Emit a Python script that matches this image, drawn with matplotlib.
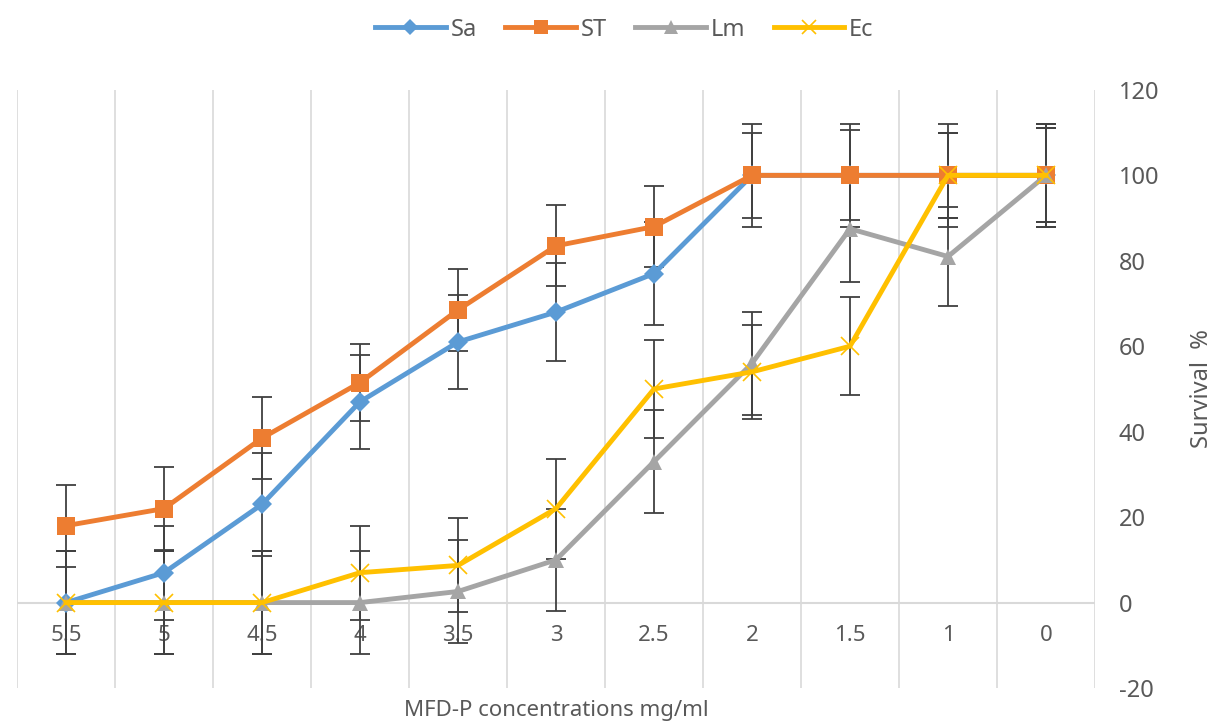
import matplotlib
matplotlib.use("Agg")
import matplotlib.pyplot as plt
import numpy as np

plt.rcParams['font.family'] = ['Noto Sans', 'DejaVu Sans']
plt.rcParams['axes.unicode_minus'] = False

concentrations = ['5.5', '5', '4.5', '4', '3.5', '3', '2.5', '2', '1.5', '1', '0']

sa = [0, 7, 23, 47, 61, 68, 77, 100, 100, 100, 100]
st = [18, 22, 38.5, 51.5, 68.5, 83.5, 88, 100, 100, 100, 100]
lm = [0, 0, 0, 0, 2.6, 10, 33, 56, 87.5, 81, 100]
ec = [0, 0, 0, 7, 8.7, 22, 50, 54, 60, 100, 100]

sa_err = [12, 11, 12, 11, 11, 11.5, 12, 12, 12, 12, 12]
st_err = [9.6, 9.8, 9.6, 9, 9.6, 9.5, 9.5, 10, 10.5, 10, 11]
lm_err = [12, 12, 12, 12, 12, 12, 12, 12, 12.4, 11.5, 11]
ec_err = [12, 12, 12, 11, 11, 11.7, 11.5, 11, 11.5, 10, 12]

series = [
    ('Sa', sa, sa_err, '#5B9BD5', 'D', 10),
    ('ST', st, st_err, '#ED7D31', 's', 13),
    ('Lm', lm, lm_err, '#A5A5A5', '^', 12),
    ('Ec', ec, ec_err, '#FFC000', 'x', 13),
]

fig = plt.figure(figsize=(12.24, 7.25), dpi=100)
ax = fig.add_axes([0.0139, 0.051, 0.8807, 0.825])

x = np.arange(len(concentrations))
grid_col = '#D9D9D9'
text_col = '#595959'

# vertical gridlines between categories
for b in np.arange(-0.5, len(concentrations), 1.0):
    ax.axvline(b, color=grid_col, lw=1.2, zorder=0)
ax.axhline(0, color=grid_col, lw=1.5, zorder=0)

for name, vals, err, col, mk, ms in series:
    ax.errorbar(x, vals, yerr=err, fmt='none', ecolor='#404040',
                elinewidth=1.3, capsize=7, capthick=1.3, zorder=2)
for name, vals, err, col, mk, ms in series:
    mew = 1.2 if mk == 'x' else 0
    ax.plot(x, vals, color=col, lw=3.5, marker=mk, markersize=ms,
            markeredgewidth=mew, markeredgecolor=col, label=name, zorder=3)

ax.set_xlim(-0.5, len(concentrations) - 0.5)
ax.set_ylim(-20, 120)
ax.set_yticks(np.arange(-20, 121, 20))
ax.yaxis.tick_right()
ax.tick_params(axis='y', length=0, pad=17, labelsize=17, labelcolor=text_col)

ax.set_xticks(x)
ax.set_xticklabels(concentrations)
ax.spines['bottom'].set_position(('data', 0))
ax.tick_params(axis='x', length=0, pad=16, labelsize=16, labelcolor=text_col)
for s in ['top', 'left', 'right', 'bottom']:
    ax.spines[s].set_visible(False)

ax.yaxis.set_label_position('right')
ax.set_ylabel('Survival  %', fontsize=17, color=text_col, labelpad=22)
ax.text(0.5, -0.038, 'MFD-P concentrations mg/ml', transform=ax.transAxes,
        ha='center', va='center', fontsize=16, color=text_col)

fig.legend(loc='upper center', bbox_to_anchor=(0.51, 1.005), ncol=4, frameon=False,
           fontsize=17, handlelength=3, columnspacing=1.2, handletextpad=0.2,
           labelcolor=text_col, markerscale=0.8)

fig.savefig('out.png', dpi=100)
